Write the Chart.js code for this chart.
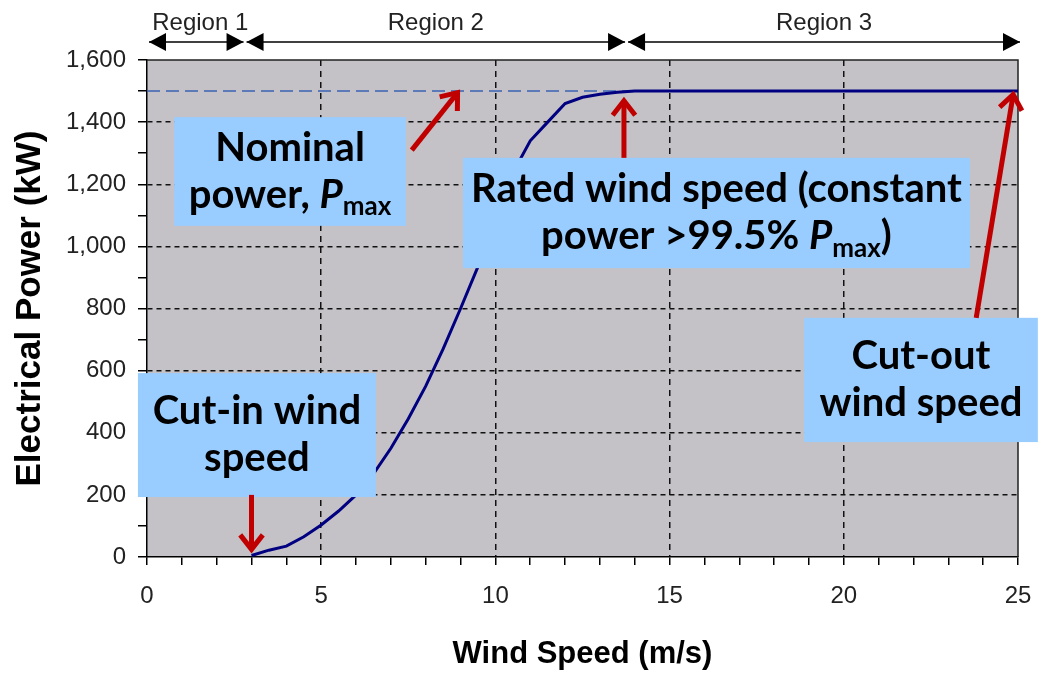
<!DOCTYPE html>
<html>
<head>
<meta charset="utf-8">
<title>Wind turbine power curve</title>
<script src="https://cdn.jsdelivr.net/npm/chart.js@4.4.1/dist/chart.umd.min.js"></script>
<style>
    html, body { margin: 0; padding: 0; background: #fff; }
    #wrap { width: 1039px; height: 674px; }
</style>
</head>
<body>
<div id="wrap"><canvas id="powerChart" width="1039" height="674"></canvas></div>
<script>
// Power curve (m/s -> kW)
const windSpeed = [3, 3.5, 4, 4.5, 5, 5.5, 6, 6.5, 7, 7.5, 8, 8.5, 9, 9.5, 10, 10.5, 10.7, 11, 11.5, 12, 12.5, 13, 13.5, 14, 25];
const powerKW = [5, 22, 35, 65, 103, 148, 200, 268, 350, 445, 550, 670, 800, 935, 1075, 1218, 1278, 1340, 1400, 1460, 1480, 1490, 1496, 1500, 1500];

// Nominal power line
const nominalSpeed = [0, 25];
const nominalPower = [1500, 1500];

// Operating regions
const regionNames = ['Region 1', 'Region 2', 'Region 3'];
const regionEdges = [0, 2.8, 13.75, 25];

// Tick labels
const xTickLabels = [0, 5, 10, 15, 20, 25];
const yTickLabels = [0, 200, 400, 600, 800, 1000, 1200, 1400, 1600];

// Colors
const colors = {
    curve: '#000080',
    nominal: '#3a62b4',
    plot: '#c4c2c6',
    grid: '#111',
    box: '#99ccff',
    arrow: '#c00000'
};

// Callouts (box corners and arrows in data units)
const callouts = [
    { box: [0.78, 1416, 7.43, 1066], lines: [[{ t: 'Nominal' }], [{ t: 'power, ' }, { t: 'P', i: true }, { t: 'max', sub: true }]],
      arrow: [7.6, 1310, 8.95, 1500] },
    { box: [9.07, 1285, 23.62, 930], lines: [[{ t: 'Rated wind speed (constant' }], [{ t: 'power >99.5% ' }, { t: 'P', i: true }, { t: 'max', sub: true }, { t: ')' }]],
      arrow: [13.69, 1285, 13.69, 1475] },
    { box: [-0.26, 592, 6.57, 193], lines: [[{ t: 'Cut-in wind' }], [{ t: 'speed' }]],
      arrow: [3.0, 200, 3.0, 18] },
    { box: [18.86, 770, 25.57, 370], lines: [[{ t: 'Cut-out' }], [{ t: 'wind speed' }]],
      arrow: [23.8, 770, 24.87, 1495] }
];

const calloutFont = 'Lato, "Open Sans", sans-serif';

// Text with italic / subscript parts
function drawRichLine(ctx, parts, cx, y, size) {
    const fontFor = p => `${p.i ? 'italic ' : ''}bold ${p.sub ? Math.round(size * 0.66) : size}px ${calloutFont}`;
    let total = 0;
    parts.forEach(p => { ctx.font = fontFor(p); total += ctx.measureText(p.t).width; });
    let x = cx - total / 2;
    parts.forEach(p => {
        ctx.font = fontFor(p);
        ctx.fillText(p.t, x, p.sub ? y + size * 0.3 : y);
        x += ctx.measureText(p.t).width;
    });
}

// Red callout arrow with open head
function drawArrow(ctx, x1, y1, x2, y2) {
    const ang = Math.atan2(y2 - y1, x2 - x1);
    const len = 20, spread = 0.6;
    ctx.save();
    ctx.strokeStyle = colors.arrow;
    ctx.lineWidth = 5;
    ctx.lineJoin = 'miter';
    ctx.beginPath();
    ctx.moveTo(x1, y1);
    ctx.lineTo(x2 - 2 * Math.cos(ang), y2 - 2 * Math.sin(ang));
    ctx.stroke();
    ctx.beginPath();
    ctx.moveTo(x2 - len * Math.cos(ang - spread), y2 - len * Math.sin(ang - spread));
    ctx.lineTo(x2 - 2 * Math.cos(ang), y2 - 2 * Math.sin(ang));
    ctx.lineTo(x2 - len * Math.cos(ang + spread), y2 - len * Math.sin(ang + spread));
    ctx.stroke();
    ctx.restore();
}

// Small black arrow head for the region bar
function regionHead(ctx, x, y, dir) {
    ctx.beginPath();
    ctx.moveTo(x, y);
    ctx.lineTo(x - dir * 17, y - 9);
    ctx.lineTo(x - dir * 17, y + 9);
    ctx.closePath();
    ctx.fill();
}

// Gray plot area and frame
const plotFrame = {
    id: 'plotFrame',
    beforeDraw(chart) {
        const { ctx, chartArea: a } = chart;
        ctx.save();
        ctx.fillStyle = colors.plot;
        ctx.fillRect(a.left, a.top, a.right - a.left, a.bottom - a.top);
        ctx.restore();
    },
    beforeDatasetsDraw(chart) {
        const { ctx, chartArea: a } = chart;
        ctx.save();
        ctx.strokeStyle = '#222';
        ctx.lineWidth = 1.5;
        ctx.beginPath();
        ctx.moveTo(a.left, a.top);
        ctx.lineTo(a.right, a.top);
        ctx.lineTo(a.right, a.bottom);
        ctx.stroke();
        ctx.restore();
    }
};

// Blue boxes and red arrows
const calloutPlugin = {
    id: 'callouts',
    afterDatasetsDraw(chart) {
        const { ctx, scales: { x, y } } = chart;
        ctx.save();
        callouts.forEach(c => {
            const x1 = x.getPixelForValue(c.box[0]), y1 = y.getPixelForValue(c.box[1]);
            const x2 = x.getPixelForValue(c.box[2]), y2 = y.getPixelForValue(c.box[3]);
            ctx.fillStyle = colors.box;
            ctx.fillRect(x1, y1, x2 - x1, y2 - y1);
            ctx.fillStyle = '#000';
            ctx.textBaseline = 'middle';
            ctx.textAlign = 'left';
            const cy = (y1 + y2) / 2, gap = 47;
            c.lines.forEach((parts, i) => {
                drawRichLine(ctx, parts, (x1 + x2) / 2, cy + (i - (c.lines.length - 1) / 2) * gap, 40);
            });
        });
        callouts.forEach(c => {
            const a = c.arrow;
            drawArrow(ctx, x.getPixelForValue(a[0]), y.getPixelForValue(a[1]), x.getPixelForValue(a[2]), y.getPixelForValue(a[3]));
        });
        ctx.restore();
    }
};

// Region bar above the plot
const regionPlugin = {
    id: 'regions',
    afterDraw(chart) {
        const { ctx, chartArea: a, scales: { x } } = chart;
        const lineY = a.top - 18;
        ctx.save();
        ctx.strokeStyle = '#000';
        ctx.fillStyle = '#000';
        ctx.lineWidth = 1.5;
        regionNames.forEach((name, i) => {
            const left = x.getPixelForValue(regionEdges[i]) + 2;
            const right = x.getPixelForValue(regionEdges[i + 1]) + (i === regionNames.length - 1 ? 2 : -1);
            ctx.beginPath();
            ctx.moveTo(left, lineY);
            ctx.lineTo(right, lineY);
            ctx.stroke();
            regionHead(ctx, left, lineY, -1);
            regionHead(ctx, right, lineY, 1);
            ctx.font = '24px "Liberation Sans", Arial, sans-serif';
            ctx.textAlign = 'center';
            ctx.textBaseline = 'middle';
            ctx.fillStyle = '#222';
            ctx.fillText(name, (left + right) / 2 + (i === 0 ? 4 : 0), lineY - 19);
            ctx.fillStyle = '#000';
        });
        ctx.restore();
    }
};

const tickFont = { family: '"Liberation Sans", Arial, sans-serif', size: 24 };
const titleFont = { family: '"Liberation Sans", Arial, sans-serif', size: 31, weight: 'bold' };

new Chart(document.getElementById('powerChart'), {
    type: 'line',
    data: {
        datasets: [
            {
                label: 'Power curve',
                data: windSpeed.map((v, i) => ({ x: v, y: powerKW[i] })),
                borderColor: colors.curve,
                borderWidth: 3,
                pointRadius: 0,
                tension: 0
            },
            {
                label: 'Nominal power',
                data: nominalSpeed.map((v, i) => ({ x: v, y: nominalPower[i] })),
                borderColor: colors.nominal,
                borderWidth: 1.5,
                borderDash: [13, 6],
                pointRadius: 0
            }
        ]
    },
    options: {
        responsive: false,
        animation: false,
        layout: { padding: { top: 60, right: 21, left: 0, bottom: 0 } },
        plugins: {
            legend: { display: false },
            tooltip: { enabled: false }
        },
        scales: {
            x: {
                type: 'linear',
                min: 0,
                max: 25,
                // fixed axis height; the last label fits inside the right padding
                afterFit: s => { s.height = 117; s.paddingRight = 0; },
                ticks: {
                    stepSize: 1,
                    autoSkip: false,
                    maxRotation: 0,
                    padding: 17,
                    color: '#222',
                    font: tickFont,
                    callback: v => xTickLabels.includes(v) ? String(v) : ''
                },
                grid: {
                    color: c => (c.tick && xTickLabels.includes(c.tick.value) && c.tick.value > 0 && c.tick.value < 25) ? colors.grid : 'transparent',
                    lineWidth: 1.5,
                    tickColor: '#000',
                    tickWidth: 1.5,
                    tickLength: 8,
                    tickBorderDash: []
                },
                border: { color: '#000', width: 1.5, dash: [6, 5] },
                title: { display: true, text: 'Wind Speed (m/s)', color: '#000', font: titleFont, padding: { top: 0, bottom: 1 } }
            },
            y: {
                min: 0,
                max: 1600,
                afterFit: s => { s.width = 147; },
                ticks: {
                    stepSize: 100,
                    autoSkip: false,
                    padding: 12,
                    color: '#222',
                    font: tickFont,
                    callback: v => yTickLabels.includes(v) ? v.toLocaleString('en-US') : ''
                },
                grid: {
                    color: c => (c.tick && yTickLabels.includes(c.tick.value) && c.tick.value > 0 && c.tick.value < 1600) ? colors.grid : 'transparent',
                    lineWidth: 1.5,
                    tickColor: '#000',
                    tickWidth: 1.5,
                    tickLength: 9,
                    tickBorderDash: []
                },
                border: { color: '#000', width: 1.5, dash: [5, 4] },
                title: { display: true, text: 'Electrical Power (kW)', color: '#000', font: { ...titleFont, size: 35 }, padding: { top: 9, bottom: 0 } }
            }
        }
    },
    plugins: [plotFrame, calloutPlugin, regionPlugin]
});
</script>
</body>
</html>
